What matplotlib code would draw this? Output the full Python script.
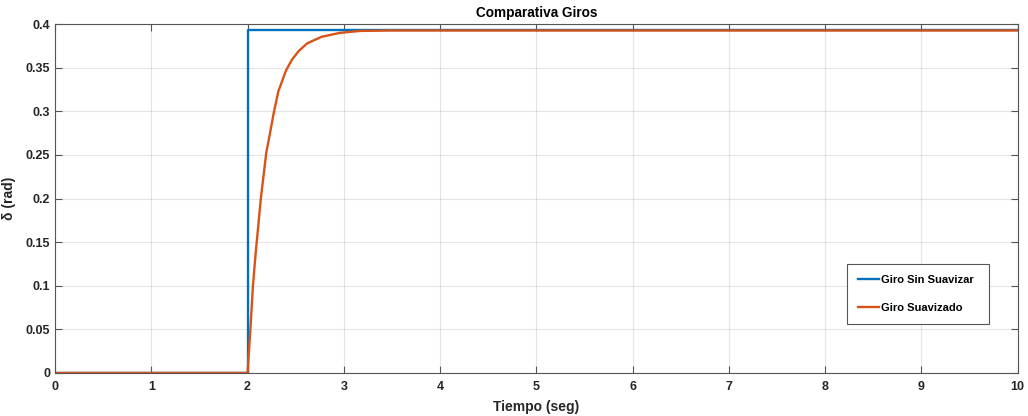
import matplotlib
matplotlib.use('Agg')
import matplotlib.pyplot as plt

# step input (sin suavizar)
t_step = [0, 2, 2, 10]
giro_step = [0, 0, 0.3927, 0.3927]

# smoothed response
t_suave = [0, 2.0, 2.03, 2.056, 2.087, 2.097, 2.139, 2.194, 2.245, 2.27,
           2.32, 2.40, 2.46, 2.53, 2.62, 2.77, 2.96, 3.17, 3.5, 10]
giro_suave = [0, 0, 0.051, 0.10, 0.141, 0.152, 0.201, 0.252, 0.282, 0.297,
              0.323, 0.347, 0.359, 0.369, 0.378, 0.3855, 0.390, 0.3922, 0.3927, 0.3927]

xticks = list(range(0, 11))
yticks = [0, 0.05, 0.1, 0.15, 0.2, 0.25, 0.3, 0.35, 0.4]
yticklabels = ['0', '0.05', '0.1', '0.15', '0.2', '0.25', '0.3', '0.35', '0.4']

plt.rcParams['font.family'] = ['Liberation Sans', 'DejaVu Sans']
dark = '#262626'

fig = plt.figure(figsize=(10.28, 4.16), dpi=100)
ax = fig.add_axes([0.0535, 0.1034, 0.9365, 0.8386])

ax.plot(t_step, giro_step, color='#0072BD', lw=1.7, label='Giro Sin Suavizar')
ax.plot(t_suave, giro_suave, color='#D95319', lw=1.7, label='Giro Suavizado')

ax.set_xlim(0, 10)
ax.set_ylim(0, 0.4)
ax.set_xticks(xticks)
ax.set_yticks(yticks)
ax.set_yticklabels(yticklabels)
ax.grid(True, color='#262626', alpha=0.12, lw=0.8)
ax.tick_params(direction='in', length=5, width=0.8, colors='#555555',
               labelcolor=dark, labelsize=9, top=True, right=True)
ax.tick_params(axis='x', pad=6)
ax.tick_params(axis='y', pad=3.5)
for lab in ax.get_xticklabels() + ax.get_yticklabels():
    lab.set_fontweight('bold')
for s in ax.spines.values():
    s.set_color('#555555')
    s.set_linewidth(0.8)

ax.set_title('Comparativa Giros', fontsize=9.8, fontweight='bold', color='black', pad=5)
ax.set_xlabel('Tiempo (seg)', fontsize=10, fontweight='bold', color=dark, labelpad=5)
ax.set_ylabel('δ (rad)', fontsize=10, fontweight='bold', color=dark, labelpad=7)

leg = ax.legend(loc='lower left', bbox_to_anchor=(0.8224, 0.140, 0.1475, 0.189),
                mode='expand', borderaxespad=0, fancybox=False, edgecolor='#555555',
                framealpha=1, prop={'size': 8, 'weight': 'bold'}, handlelength=1.9,
                handletextpad=0.2, labelspacing=1.6, borderpad=1.0)
leg.get_frame().set_linewidth(0.8)

fig.savefig('out.png', dpi=100)
